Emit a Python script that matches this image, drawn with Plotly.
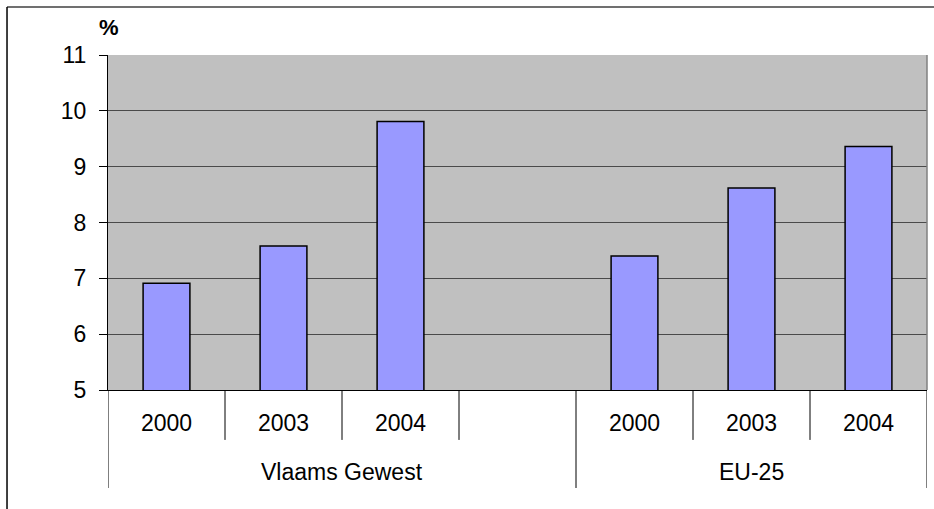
import plotly.graph_objects as go

groups = ["Vlaams Gewest", "EU-25"]
years = ["2000", "2003", "2004"]
vlaams = [6.91, 7.58, 9.81]
eu25 = [7.40, 8.62, 9.36]
y_ticks = [5, 6, 7, 8, 9, 10, 11]
unit_label = "%"

series = [vlaams, eu25]
slot_per_group = len(years) + 1  # one empty slot after first group

xs, ys = [], []
for g, vals in enumerate(series):
    for i, v in enumerate(vals):
        xs.append(g * slot_per_group + i)
        ys.append(v)

FONT = "Liberation Sans, Arial, sans-serif"
FS = 23

fig = go.Figure()
fig.add_trace(go.Bar(
    x=xs, y=ys, width=0.4,
    marker=dict(color="#9999FF", line=dict(color="black", width=1.5)),
    showlegend=False, hoverinfo="y",
))

annotations = []
shapes = []
n_slots = slot_per_group * len(groups) - 1  # 7

# year labels
for g in range(len(groups)):
    for i, yr in enumerate(years):
        annotations.append(dict(x=g * slot_per_group + i, y=-0.0985, xref="x", yref="paper",
                                text=yr, showarrow=False, yanchor="middle",
                                font=dict(family=FONT, size=FS, color="black")))
# group labels
group_centers = [(-0.5 + 3.5) / 2, (3.5 + 6.5) / 2]
for g, name in enumerate(groups):
    annotations.append(dict(x=group_centers[g], y=-0.2448, xref="x", yref="paper",
                            text=name, showarrow=False, yanchor="middle",
                            font=dict(family=FONT, size=FS, color="black")))
# dividers
for k in range(n_slots + 1):
    xb = -0.5 + k
    outer = xb in (-0.5, 3.5, 6.5)
    shapes.append(dict(type="line", xref="x", yref="paper", x0=xb, x1=xb,
                       y0=0, y1=(-0.2925 if outer else -0.149),
                       line=dict(color="black", width=1)))
# right border of plot area
shapes.append(dict(type="line", xref="paper", yref="paper", x0=1, x1=1, y0=0, y1=1,
                   line=dict(color="#808080", width=1.5)))
# outer frame
shapes.append(dict(type="line", xref="paper", yref="paper", x0=-0.1233, x1=1.2,
                   y0=1.1433, y1=1.1433, line=dict(color="#404040", width=1.5)))
shapes.append(dict(type="line", xref="paper", yref="paper", x0=-0.1233, x1=-0.1233,
                   y0=1.1433, y1=-0.5, line=dict(color="black", width=1.5)))

annotations.append(dict(x=0.001, y=1.0806, xref="paper", yref="paper", text="<b>%s</b>" % unit_label,
                        showarrow=False, xanchor="center", yanchor="middle",
                        font=dict(family=FONT, size=22, color="black")))

fig.update_layout(
    width=934, height=509,
    margin=dict(l=108, r=7, t=55, b=119),
    paper_bgcolor="white", plot_bgcolor="#C0C0C0",
    xaxis=dict(range=[-0.5, n_slots - 0.5], showticklabels=False, showgrid=False,
               zeroline=False, showline=True, linecolor="black", linewidth=1, ticks=""),
    yaxis=dict(range=[5, 11], tickvals=y_ticks, showgrid=True, gridcolor="#4a4a4a", gridwidth=1,
               zeroline=False, showline=True, linecolor="black", linewidth=1,
               ticks="outside", ticklen=8, tickcolor="black", ticklabelstandoff=8,
               tickfont=dict(family=FONT, size=FS, color="black")),
    annotations=annotations, shapes=shapes, bargap=0.6,
)

fig.write_html("out.html", config={"displayModeBar": False},
               post_script="document.body.style.margin='0';")
